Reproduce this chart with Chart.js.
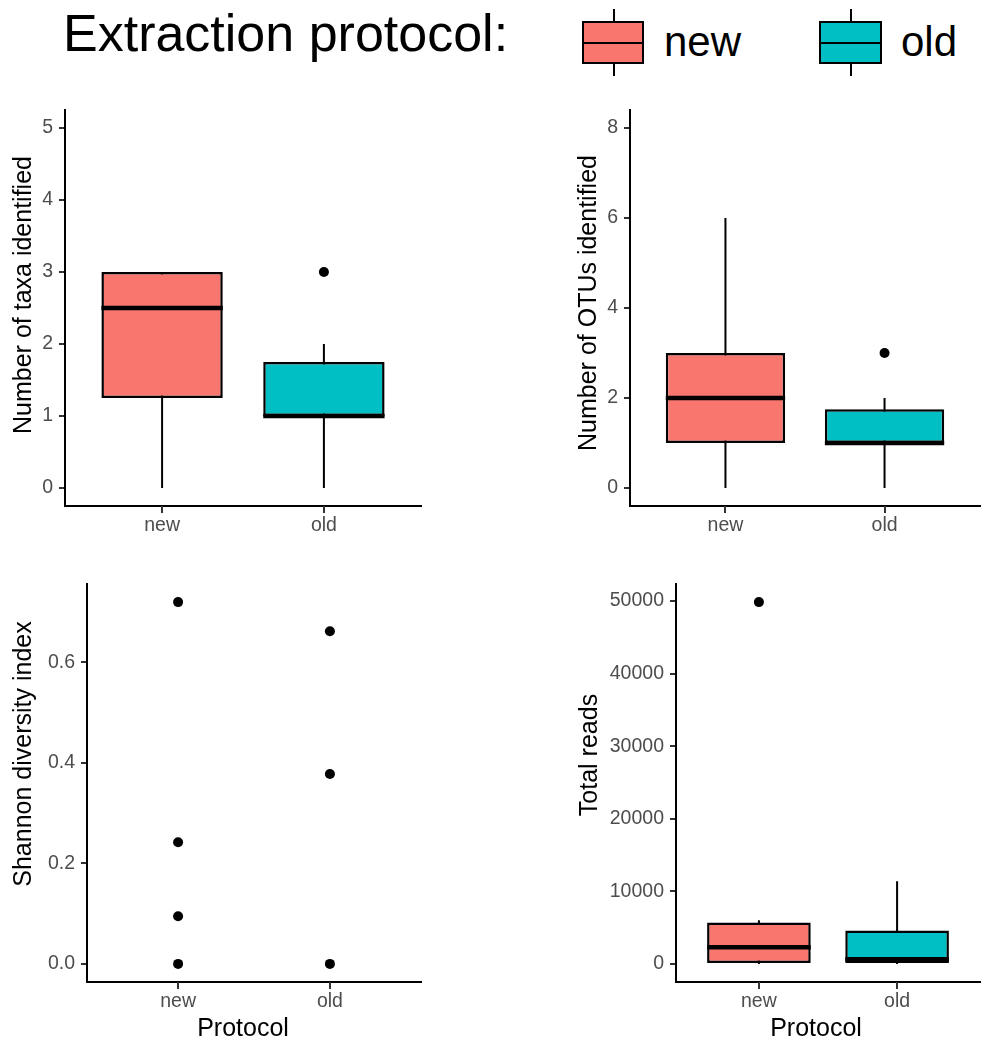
<!DOCTYPE html>
<html>
<head>
<meta charset="utf-8">
<script src="https://cdn.jsdelivr.net/npm/chart.js@4.4.0/dist/chart.umd.min.js"></script>
<style>
html,body{margin:0;padding:0;background:#fff;}
body{width:985px;height:1041px;position:relative;overflow:hidden;font-family:"Liberation Sans",Arial,Helvetica,sans-serif;}
canvas{position:absolute;}
.t{position:absolute;white-space:nowrap;line-height:1;color:#000;}
.rot{transform:translate(-50%,-50%) rotate(-90deg);}
.ctr{transform:translate(-50%,-50%);}
.key{position:absolute;box-sizing:border-box;border:2px solid #000;}
.mid{position:absolute;left:0;right:0;height:2px;background:#000;}
.wh{position:absolute;width:2px;background:#000;}
</style>
</head>
<body>
<div class="t" style="left:63px;top:7px;font-size:52px;">Extraction protocol:</div>
<div class="wh" style="left:613px;top:9px;height:67px;"></div>
<div class="key" style="left:582px;top:21px;width:62px;height:43px;background:#F8766D;"><div class="mid" style="top:19px;"></div></div>
<div class="t" style="left:664px;top:21px;font-size:42px;">new</div>
<div class="wh" style="left:850px;top:9px;height:67px;"></div>
<div class="key" style="left:819px;top:21px;width:63px;height:43px;background:#00BFC4;"><div class="mid" style="top:19px;"></div></div>
<div class="t" style="left:901px;top:21px;font-size:42px;">old</div>

<canvas id="p1" width="430" height="456" style="left:0px;top:90px;"></canvas>
<canvas id="p2" width="440" height="456" style="left:545px;top:90px;"></canvas>
<canvas id="p3" width="430" height="458" style="left:0px;top:564px;"></canvas>
<canvas id="p4" width="440" height="458" style="left:545px;top:564px;"></canvas>

<div class="t rot" style="left:22px;top:295px;font-size:25px;">Number of taxa identified</div>
<div class="t rot" style="left:587px;top:303px;font-size:25px;">Number of OTUs identified</div>
<div class="t rot" style="left:22px;top:754px;font-size:25px;">Shannon diversity index</div>
<div class="t rot" style="left:588px;top:755px;font-size:25px;">Total reads</div>
<div class="t ctr" style="left:243px;top:1027px;font-size:25px;">Protocol</div>
<div class="t ctr" style="left:816px;top:1027px;font-size:25px;">Protocol</div>

<script>
// ---------- data ----------
const categories = ['new', 'old'];
const boxColors = ['#F8766D', '#00BFC4'];

// Number of taxa identified
const taxaLo = [0, 0];
const taxaQ1 = [1.25, 1];
const taxaMed = [2.5, 1];
const taxaQ3 = [3, 1.75];
const taxaHi = [3, 2];
const taxaOutliers = [[], [3]];
const taxaTicks = [0, 1, 2, 3, 4, 5];

// Number of OTUs identified
const otuLo = [0, 0];
const otuQ1 = [1, 1];
const otuMed = [2, 1];
const otuQ3 = [3, 1.75];
const otuHi = [6, 2];
const otuOutliers = [[], [3]];
const otuTicks = [0, 2, 4, 6, 8];

// Shannon diversity index (points)
const shannonNew = [0.72, 0.242, 0.095, 0];
const shannonOld = [0.662, 0.378, 0];
const shannonTicks = [0, 0.2, 0.4, 0.6];

// Total reads
const readsLo = [0, 0];
const readsQ1 = [0, 0];
const readsMed = [2300, 650];
const readsQ3 = [5700, 4600];
const readsHi = [6000, 11400];
const readsOutliers = [[49850], []];
const readsTicks = [0, 10000, 20000, 30000, 40000, 50000];

// ---------- helpers ----------
const FONT = '"Liberation Sans", Arial, Helvetica, sans-serif';
const BOX_HALF = 0.375;
const TICK_LEN = 6;
const TICK_FONT = { size: 19.5, family: FONT };
Chart.defaults.font.family = FONT;

// x-axis tick marks at the category positions, placed through the x scale
const xTickMarks = {
  id: 'xTickMarks',
  afterDraw(chart) {
    const sc = chart.scales.x, ctx = chart.ctx, y0 = chart.chartArea.bottom;
    ctx.save();
    ctx.fillStyle = '#333333';
    sc.ticks.forEach(t => {
      const px = Math.round(sc.getPixelForValue(t.value));
      ctx.fillRect(px - 1, y0, 2, TICK_LEN + 1);
    });
    ctx.restore();
  }
};

function yRange(minV, maxV) { const e = (maxV - minV) * 0.05; return [minV - e, maxV + e]; }

function axisCommon() {
  return {
    grid: { display: true, offset: false, z: 1, drawOnChartArea: false, drawTicks: true, tickLength: TICK_LEN, tickColor: '#333333', tickWidth: 2, color: '#333333', lineWidth: 2 },
    border: { display: true, color: '#000000', width: 2, z: 2 },
  };
}

function xScale() {
  return Object.assign(axisCommon(), {
    type: 'linear', min: 0.4, max: 2.6, offset: false,
    afterBuildTicks: sc => { sc.ticks = categories.map((c, i) => ({ value: i + 1 })); },
    afterFit: sc => { sc.height = 40; },
    ticks: { color: '#4D4D4D', font: TICK_FONT, padding: 2, maxRotation: 0, autoSkip: false,
      callback: v => categories[Math.round(v) - 1] }
  });
}

function yScale(range, ticks, width, fmt) {
  return Object.assign(axisCommon(), {
    type: 'linear', min: range[0], max: range[1],
    afterBuildTicks: sc => { sc.ticks = ticks.map(v => ({ value: v })); },
    afterFit: sc => { sc.width = width; },
    ticks: { color: '#4D4D4D', font: TICK_FONT, padding: 6, autoSkip: false, callback: fmt }
  });
}

function boxDatasets(lo, q1, med, q3, hi, outliers) {
  const whisk = [], meds = [], pts = [];
  categories.forEach((c, i) => {
    whisk.push({ x: i + 1, y: lo[i] }, { x: i + 1, y: hi[i] }, { x: i + 1, y: null });
    meds.push({ x: i + 1 - BOX_HALF, y: med[i] }, { x: i + 1 + BOX_HALF, y: med[i] }, { x: i + 1, y: null });
    outliers[i].forEach(v => pts.push({ x: i + 1, y: v }));
  });
  return [
    { type: 'line', data: whisk, borderColor: '#000', borderWidth: 2, pointRadius: 0, spanGaps: false, fill: false, order: 3 },
    { type: 'bar', data: categories.map((c, i) => ({ x: i + 1, y: [q1[i], q3[i]] })),
      backgroundColor: boxColors, borderColor: '#000', borderWidth: 2.5, borderSkipped: false,
      categoryPercentage: 0.75, barPercentage: 1, order: 2 },
    { type: 'line', data: meds, borderColor: '#000', borderWidth: 4.5, borderCapStyle: 'butt', pointRadius: 0, spanGaps: false, fill: false, order: 1 },
    { type: 'scatter', data: pts, backgroundColor: '#000', borderWidth: 0, pointRadius: 5, order: 0 }
  ];
}

function makeChart(id, datasets, yS, padRight) {
  return new Chart(document.getElementById(id), {
    type: 'bar',
    data: { datasets },
    plugins: [xTickMarks],
    options: {
      responsive: false, animation: false, devicePixelRatio: 1,
      layout: { padding: { top: 20, right: padRight, left: 0, bottom: 0 } },
      plugins: { legend: { display: false }, tooltip: { enabled: false } },
      scales: { x: xScale(), y: yS }
    }
  });
}

const intFmt = v => String(v);

makeChart('p1', boxDatasets(taxaLo, taxaQ1, taxaMed, taxaQ3, taxaHi, taxaOutliers),
  yScale(yRange(0, 5), taxaTicks, 65, intFmt), 9);
makeChart('p2', boxDatasets(otuLo, otuQ1, otuMed, otuQ3, otuHi, otuOutliers),
  yScale(yRange(0, 8), otuTicks, 85, intFmt), 0);

const shAll = shannonNew.concat(shannonOld);
makeChart('p3', [
  { type: 'scatter', data: shannonNew.map(v => ({ x: 1, y: v })).concat(shannonOld.map(v => ({ x: 2, y: v }))),
    backgroundColor: '#000', borderWidth: 0, pointRadius: 5 }
], yScale(yRange(Math.min(...shAll), Math.max(...shAll)), shannonTicks, 87, v => Number(v).toFixed(1)), 9);

const rdAll = readsLo.concat(readsHi, readsOutliers.flat());
makeChart('p4', boxDatasets(readsLo, readsQ1, readsMed, readsQ3, readsHi, readsOutliers),
  yScale(yRange(Math.min(...rdAll), Math.max(...rdAll)), readsTicks, 131, intFmt), 0);
</script>
</body>
</html>
